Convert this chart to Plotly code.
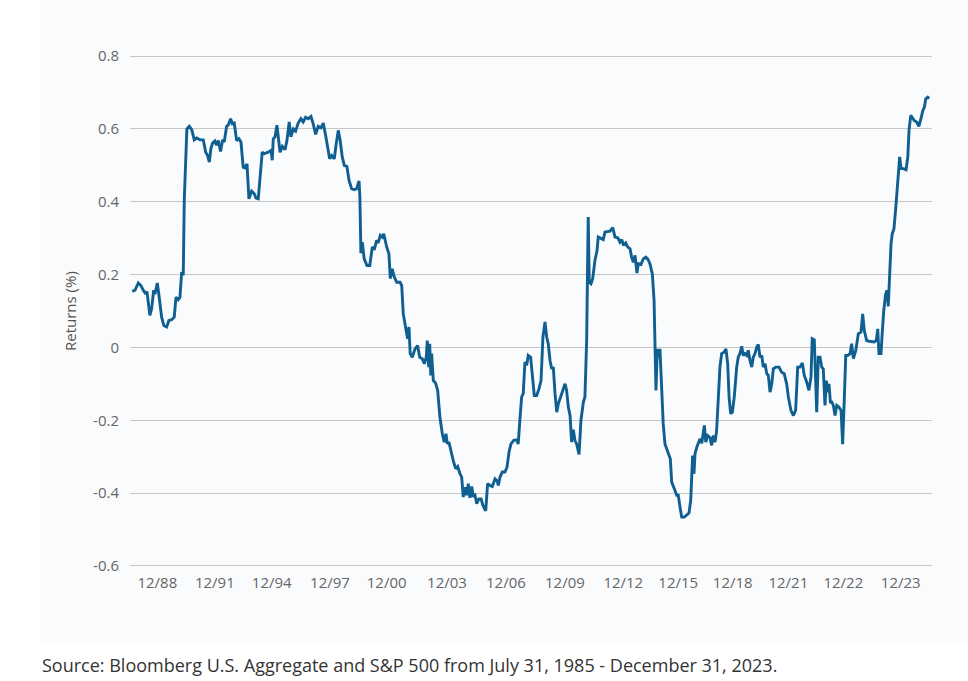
import plotly.graph_objects as go

# Month index since the first observation and the rolling value (%)
months = [0.0, 1.6, 3.5, 5.0, 6.4, 7.8, 8.5, 10.2, 11.2, 12.4, 13.1, 14.5, 15.6, 17.0, 18.3, 19.9, 21.2, 22.8,
          24.3, 25.3, 26.6, 27.6, 28.6, 29.5, 30.1, 30.9, 31.6, 33.0, 34.4, 35.9, 37.3, 39.2, 41.1, 42.5, 43.6,
          44.6, 45.5, 46.5, 47.8, 48.8, 49.8, 51.1, 52.3, 53.2, 54.6, 55.5, 56.9, 57.9, 59.0, 60.4, 61.7, 62.9,
          64.2, 65.2, 66.4, 67.5, 69.1, 70.6, 71.6, 72.9, 74.1, 75.2, 76.4,
          78.7, 80.3, 81.0, 81.6, 82.6, 83.7, 84.5, 85.5, 86.8, 88.4, 89.5, 90.8, 91.8, 93.2, 94.5, 96.0, 97.6,
          98.9, 100.3, 101.8, 103.4, 104.7, 106.1, 107.6, 109.2, 110.5, 111.9, 113.1, 114.2, 115.4, 116.9,
          118.0, 119.2, 120.3, 121.5, 122.7, 124.2, 125.4, 126.9, 128.4, 129.8, 131.2, 131.7, 132.3, 133.1,
          134.2, 135.8, 137.4, 138.9, 140.0, 141.4, 142.3, 143.5, 144.7, 145.5,
          147.2, 148.5, 149.3, 150.4, 151.6, 153.0, 154.9, 155.9, 156.8, 158.2, 159.3, 160.1, 160.8, 162.0,
          163.6, 165.1, 166.3, 167.8, 169.0, 170.1, 170.7, 171.5, 172.1, 172.7, 173.2, 174.2, 175.5, 176.7,
          178.0, 179.4, 180.5, 181.5, 182.3, 183.2, 184.4, 185.7, 187.1, 188.3, 189.6, 190.6, 191.5, 192.5,
          193.5, 194.4, 195.4, 196.4, 197.3, 198.3, 199.3, 200.6, 201.8, 202.9, 204.5, 205.6, 207.0, 208.3,
          209.9, 211.0, 211.8, 212.8, 214.1, 215.6, 216.8, 218.0, 219.1, 220.7, 222.4, 223.3,
          224.3, 225.3, 226.2, 227.2, 228.2, 229.1, 230.5, 231.4, 232.6, 234.0, 235.3, 236.5, 237.6, 238.8,
          239.8, 240.7, 241.7, 242.7, 243.6, 244.6, 245.6, 246.5, 248.5, 250.4, 251.3, 252.3, 253.3, 254.2,
          255.2, 256.1, 257.1, 258.5, 259.6, 261.0, 261.9, 262.9, 263.8, 264.4, 265.4, 266.4, 267.7, 268.9,
          269.6, 271.2, 272.5, 273.5, 275.1, 276.4, 278.0, 279.3, 280.9, 282.2, 283.2, 284.3, 285.5, 286.6,
          288.0, 288.9, 289.9, 290.9, 292.0, 292.8, 294.3, 295.7, 297.1, 298.2, 299.5, 300.9, 301.9, 302.4,
          303.0, 303.8, 304.6, 305.3, 306.3, 307.2, 308.2, 309.2, 310.1, 311.3, 312.1, 313.0, 314.0, 315.0,
          315.9, 316.9, 317.9, 319.4, 320.8, 322.1, 323.1, 323.7, 324.2, 325.0, 325.6, 326.6, 327.5, 328.5,
          329.5, 330.2, 331.0, 331.8, 332.9, 334.3, 335.2, 336.2, 337.2, 338.1, 339.1, 340.0, 341.0, 342.4,
          343.5, 344.5, 345.3, 346.2, 347.2, 348.3, 349.7, 350.6, 351.6, 352.6, 353.5, 354.5, 355.5, 356.4,
          357.4, 358.4, 359.3, 360.3, 361.3, 362.2, 363.2, 364.2, 365.1, 366.1, 367.1, 368.0, 369.0, 370.0,
          370.9, 372.3, 374.2, 375.7, 377.2, 378.6, 379.6, 381.1, 382.5, 383.8, 385.0, 386.3, 387.7, 388.8,
          390.2, 391.5, 392.7, 393.4, 394.6, 396.0, 396.9, 397.9, 398.9, 399.8, 400.8, 401.6, 402.4, 403.1,
          403.9, 404.7, 405.6, 406.6, 407.6, 408.9, 410.1, 411.0, 412.0, 412.8, 413.9, 415.3, 416.2, 417.2,
          418.6, 420.1, 421.6, 422.6, 423.5, 424.9, 426.3, 427.8, 429.3, 430.5, 431.3, 432.0, 433.2, 434.0,
          434.8, 435.9, 436.7, 437.4, 438.2, 439.0, 439.7, 440.7, 441.7, 442.5, 443.2, 444.0, 444.8, 446.1,
          447.7, 448.7, 449.4, 450.4, 451.3, 452.4, 453.8, 455.1, 456.3, 457.3, 458.3, 459.1, 460.2, 461.0]

returns = [0.154, 0.157, 0.177, 0.170, 0.157, 0.147, 0.154, 0.088, 0.106, 0.157, 0.146, 0.177, 0.138, 0.083,
           0.060, 0.056, 0.074, 0.076, 0.083, 0.138, 0.131, 0.138, 0.207, 0.198, 0.404, 0.550, 0.600, 0.607,
           0.598, 0.570, 0.575, 0.570, 0.570, 0.536, 0.527, 0.509, 0.546, 0.561, 0.567, 0.555, 0.568, 0.538,
           0.570, 0.564, 0.607, 0.610, 0.628, 0.614, 0.616, 0.568, 0.573, 0.564, 0.495, 0.493, 0.504, 0.408,
           0.429, 0.422, 0.410, 0.408, 0.477, 0.536, 0.532,
           0.536, 0.541, 0.514, 0.573, 0.578, 0.610, 0.578, 0.536, 0.552, 0.543, 0.568, 0.619, 0.578, 0.600,
           0.594, 0.616, 0.628, 0.619, 0.632, 0.628, 0.634, 0.614, 0.585, 0.607, 0.603, 0.616, 0.582, 0.546,
           0.518, 0.527, 0.518, 0.559, 0.596, 0.568, 0.523, 0.500, 0.497, 0.459, 0.436, 0.433, 0.436, 0.457,
           0.413, 0.259, 0.289, 0.243, 0.225, 0.225, 0.276, 0.268, 0.294, 0.287, 0.308, 0.303, 0.312,
           0.276, 0.257, 0.189, 0.216, 0.193, 0.179, 0.179, 0.170, 0.092, 0.056, 0.024, 0.056, -0.017, -0.027,
           -0.004, 0.005, -0.027, -0.031, -0.045, -0.027, 0.019, -0.054, 0.010, -0.077, -0.017, -0.091, -0.098,
           -0.118, -0.191, -0.237, -0.260, -0.237, -0.265, -0.260, -0.287, -0.310, -0.333, -0.327, -0.347,
           -0.356, -0.411, -0.384, -0.406, -0.374, -0.413, -0.382, -0.410, -0.406, -0.429, -0.416, -0.416,
           -0.434, -0.449, -0.374, -0.379, -0.382, -0.361, -0.366, -0.379, -0.356, -0.342, -0.342, -0.329,
           -0.287, -0.265, -0.255, -0.254, -0.265,
           -0.196, -0.136, -0.127, -0.040, -0.049, -0.022, -0.027, -0.081, -0.132, -0.132, -0.114, -0.091,
           0.028, 0.070, 0.028, 0.010, -0.036, -0.059, -0.054, -0.127, -0.178, -0.155, -0.127, -0.100, -0.118,
           -0.164, -0.187, -0.260, -0.226, -0.255, -0.265, -0.294, -0.200, -0.150, -0.136, 0.019, 0.358, 0.179,
           0.175, 0.189, 0.239, 0.266, 0.303, 0.298, 0.296, 0.317, 0.317, 0.319, 0.329, 0.303, 0.301, 0.289,
           0.296, 0.280, 0.287, 0.276, 0.271, 0.248, 0.234, 0.253, 0.204, 0.230, 0.228, 0.243, 0.248, 0.243,
           0.230, 0.202, 0.129, -0.008, -0.118, -0.004, -0.027, -0.004, -0.109, -0.210, -0.265, -0.278,
           -0.292, -0.306, -0.370, -0.384, -0.393, -0.406, -0.406, -0.438, -0.466, -0.466, -0.461, -0.455,
           -0.420, -0.347, -0.297, -0.347, -0.292, -0.274, -0.265, -0.251, -0.263, -0.242, -0.214, -0.260,
           -0.242, -0.248, -0.269, -0.242, -0.260, -0.228, -0.118, -0.054, -0.017, -0.013, -0.004, -0.045,
           -0.136, -0.182, -0.178, -0.136, -0.054, -0.027, -0.017, 0.003, -0.022, -0.017, -0.022, -0.008,
           -0.036, -0.054, -0.027, -0.017, 0.001, 0.008, -0.027, -0.022, -0.054, -0.045, -0.072, -0.077,
           -0.123, -0.100, -0.059, -0.054, -0.054, -0.068, -0.072, -0.100, -0.136, -0.173, -0.187, -0.173,
           -0.054, -0.054, -0.043, -0.077, -0.095, -0.118, -0.081, 0.024, 0.021, -0.178, -0.027, -0.027,
           -0.054, -0.059, -0.159, -0.091, -0.123, -0.100, -0.150, -0.150, -0.159, -0.187, -0.159, -0.164,
           -0.173, -0.266, -0.136, -0.022, -0.022, -0.017, 0.010, -0.031, -0.008, 0.038, 0.042, 0.092, 0.047,
           0.019, 0.017, 0.017, 0.015, 0.019, 0.051, -0.017, -0.017, 0.047, 0.102, 0.147, 0.157, 0.113, 0.211,
           0.285, 0.312, 0.326, 0.381, 0.440, 0.486, 0.523, 0.491, 0.491, 0.488, 0.523, 0.596, 0.637, 0.631,
           0.623, 0.619, 0.607, 0.628, 0.649, 0.660, 0.683, 0.687, 0.683]

tick_labels = ["12/88", "12/91", "12/94", "12/97", "12/00", "12/03", "12/06", "12/09",
               "12/12", "12/15", "12/18", "12/21", "12/22", "12/23"]
tick_months = [14.5, 47.8, 80.7, 114.4, 147.2, 182.1, 216.2, 250.3, 284.1, 315.9, 347.4, 379.6, 411.4, 444.6]

y_ticks = [-0.6, -0.4, -0.2, 0, 0.2, 0.4, 0.6, 0.8]
y_tick_text = ["-0.6", "-0.4", "-0.2", "0", "0.2", "0.4", "0.6", "0.8"]

FONT = "Open Sans"

fig = go.Figure()
fig.add_trace(go.Scatter(
    x=months, y=returns, mode="lines",
    line=dict(color="#0f5f91", width=2.9),
    hoverinfo="skip", showlegend=False,
))

fig.update_layout(
    width=968, height=681,
    margin=dict(l=130, r=36, t=54.9, b=113.9),
    paper_bgcolor="white",
    plot_bgcolor="rgba(0,0,0,0)",
    font=dict(family=FONT, size=15, color="#666666"),
    showlegend=False,
    xaxis=dict(
        range=[-1.3, 462.7],
        tickmode="array", tickvals=tick_months, ticktext=tick_labels,
        showgrid=False, zeroline=False, showline=False, ticks="",
        tickfont=dict(family=FONT, size=15, color="#666666"),
        ticklabelstandoff=5,
        fixedrange=True,
    ),
    yaxis=dict(
        range=[-0.603, 0.803],
        tickmode="array", tickvals=y_ticks, ticktext=y_tick_text,
        showgrid=True, gridcolor="#c6c6c6", gridwidth=1.4,
        zeroline=False, showline=False, ticks="",
        tickfont=dict(family=FONT, size=15, color="#666666"),
        ticklabelstandoff=10,
        fixedrange=True,
    ),
    shapes=[dict(
        type="rect", xref="paper", yref="paper",
        x0=-0.1122, x1=1.0449, y0=-0.1457, y1=1.1072,
        fillcolor="#fafbfd", line=dict(width=0), layer="below",
    )],
    annotations=[
        dict(text="Returns (%)", xref="paper", yref="paper", x=-0.0748, y=0.5,
             textangle=-90, showarrow=False, xanchor="center", yanchor="middle",
             font=dict(family=FONT, size=15, color="#555555")),
        dict(text="Source: Bloomberg U.S. Aggregate and S&P 500 from July 31, 1985 - December 31, 2023.",
             xref="paper", yref="paper", x=-0.1122, y=-0.191, showarrow=False,
             xanchor="left", yanchor="middle",
             font=dict(family=FONT, size=18, color="#333333")),
    ],
)

fig.write_html("out.html")
